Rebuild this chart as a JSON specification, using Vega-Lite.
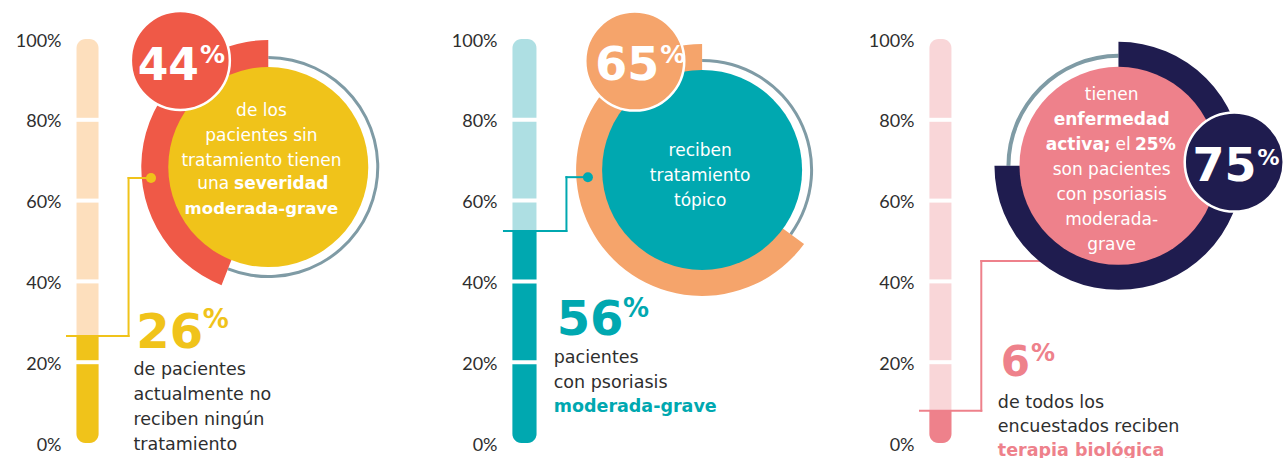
{
  "$schema": "https://vega.github.io/schema/vega-lite/v6.json",
  "padding": {"left": 15, "top": 5, "right": 0, "bottom": 0},
  "background": "white",
  "config": {"view": {"stroke": null}, "font": "DejaVu Sans", "text": {"font": "DejaVu Sans"}},
  "datasets": {
    "p1": [{"pct": 26, "bar": 26.5, "ring": 44}],
    "p2": [{"pct": 56, "bar": 52.5, "ring": 65}],
    "p3": [{"pct": 6, "bar": 8, "ring": 75}],
    "seps": [{"v": 20}, {"v": 40}, {"v": 60}, {"v": 80}]
  },
  "bounds": "flush",
  "spacing": 0,
  "hconcat": [
    {
      "width": 436, "height": 404,
      "data": {"name": "p1"},
      "layer": [
        {"mark": {"type": "bar", "width": 22, "cornerRadius": 9, "color": "#FDDFBD"},
         "encoding": {"x": {"datum": 21, "type": "quantitative", "scale": {"domain": [0, 436]}, "axis": null},
                      "y": {"datum": 100, "type": "quantitative", "scale": {"domain": [0, 100]}, "axis": {"values": [0, 20, 40, 60, 80, 100], "labelExpr": "datum.value + '%'", "ticks": false, "domain": false, "grid": false, "labelPadding": 1, "labelFontSize": 18, "labelColor": "#2E2E2E", "labelFont": "Lato", "labelOffset": 2, "title": null}},
                      "y2": {"datum": 0}}},
        {"mark": {"type": "bar", "width": 22, "cornerRadiusBottomLeft": 9, "cornerRadiusBottomRight": 9, "color": "#F0C31A"},
         "encoding": {"x": {"datum": 21, "type": "quantitative", "scale": {"domain": [0, 436]}, "axis": null},
                      "y": {"field": "bar", "type": "quantitative", "scale": {"domain": [0, 100]}, "axis": {"values": [0, 20, 40, 60, 80, 100], "labelExpr": "datum.value + '%'", "ticks": false, "domain": false, "grid": false, "labelPadding": 1, "labelFontSize": 18, "labelColor": "#2E2E2E", "labelFont": "Lato", "labelOffset": 2, "title": null}},
                      "y2": {"datum": 0}}},
        {"data": {"name": "seps"},
         "mark": {"type": "tick", "orient": "horizontal", "color": "white", "thickness": 4, "size": 26, "opacity": 1},
         "encoding": {"x": {"datum": 21, "type": "quantitative", "scale": {"domain": [0, 436]}, "axis": null},
                      "y": {"field": "v", "type": "quantitative", "scale": {"domain": [0, 100]}, "axis": {"values": [0, 20, 40, 60, 80, 100], "labelExpr": "datum.value + '%'", "ticks": false, "domain": false, "grid": false, "labelPadding": 1, "labelFontSize": 18, "labelColor": "#2E2E2E", "labelFont": "Lato", "labelOffset": 2, "title": null}}}},
        {"mark": {"type": "arc", "outerRadius": 111, "innerRadius": 108, "color": "#7F9BA5"},
         "encoding": {"x": {"datum": 206, "type": "quantitative", "scale": {"domain": [0, 436]}, "axis": null},
                      "y": {"datum": 68.3, "type": "quantitative", "scale": {"domain": [0, 100]}, "axis": {"values": [0, 20, 40, 60, 80, 100], "labelExpr": "datum.value + '%'", "ticks": false, "domain": false, "grid": false, "labelPadding": 1, "labelFontSize": 18, "labelColor": "#2E2E2E", "labelFont": "Lato", "labelOffset": 2, "title": null}},
                      "theta": {"field": "ring", "type": "quantitative", "stack": null, "scale": {"domain": [0, 100], "range": [6.283185307179586, 0]}},
                      "theta2": {"datum": 100}}},
        {"mark": {"type": "arc", "outerRadius": 127, "innerRadius": 99, "color": "#EF5947"},
         "encoding": {"x": {"datum": 206, "type": "quantitative", "scale": {"domain": [0, 436]}, "axis": null},
                      "y": {"datum": 68.3, "type": "quantitative", "scale": {"domain": [0, 100]}, "axis": {"values": [0, 20, 40, 60, 80, 100], "labelExpr": "datum.value + '%'", "ticks": false, "domain": false, "grid": false, "labelPadding": 1, "labelFontSize": 18, "labelColor": "#2E2E2E", "labelFont": "Lato", "labelOffset": 2, "title": null}},
                      "theta": {"field": "ring", "type": "quantitative", "stack": null, "scale": {"domain": [0, 100], "range": [6.283185307179586, 0]}},
                      "theta2": {"datum": 0}}},
        {"mark": {"type": "circle", "size": 40000, "fill": "#F0C31A", "opacity": 1},
         "encoding": {"x": {"datum": 206, "type": "quantitative", "scale": {"domain": [0, 436]}, "axis": null},
                      "y": {"datum": 68.3, "type": "quantitative", "scale": {"domain": [0, 100]}, "axis": {"values": [0, 20, 40, 60, 80, 100], "labelExpr": "datum.value + '%'", "ticks": false, "domain": false, "grid": false, "labelPadding": 1, "labelFontSize": 18, "labelColor": "#2E2E2E", "labelFont": "Lato", "labelOffset": 2, "title": null}}}},
        {"mark": {"type": "circle", "size": 9801, "fill": "#EF5947", "opacity": 1, "stroke": "white", "strokeWidth": 2.5},
         "encoding": {"x": {"datum": 116, "type": "quantitative", "scale": {"domain": [0, 436]}, "axis": null},
                      "y": {"datum": 94.7, "type": "quantitative", "scale": {"domain": [0, 100]}, "axis": {"values": [0, 20, 40, 60, 80, 100], "labelExpr": "datum.value + '%'", "ticks": false, "domain": false, "grid": false, "labelPadding": 1, "labelFontSize": 18, "labelColor": "#2E2E2E", "labelFont": "Lato", "labelOffset": 2, "title": null}}}},
        {"mark": {"type": "rule", "color": "#F0C31A", "strokeWidth": 2, "strokeCap": "square"},
         "encoding": {"x": {"datum": 0, "type": "quantitative", "scale": {"domain": [0, 436]}, "axis": null},
                      "x2": {"datum": 63},
                      "y": {"field": "bar", "type": "quantitative", "scale": {"domain": [0, 100]}, "axis": {"values": [0, 20, 40, 60, 80, 100], "labelExpr": "datum.value + '%'", "ticks": false, "domain": false, "grid": false, "labelPadding": 1, "labelFontSize": 18, "labelColor": "#2E2E2E", "labelFont": "Lato", "labelOffset": 2, "title": null}}}},
        {"mark": {"type": "rule", "color": "#F0C31A", "strokeWidth": 2, "strokeCap": "square"},
         "encoding": {"x": {"datum": 63, "type": "quantitative", "scale": {"domain": [0, 436]}, "axis": null},
                      "y": {"field": "bar", "type": "quantitative", "scale": {"domain": [0, 100]}, "axis": {"values": [0, 20, 40, 60, 80, 100], "labelExpr": "datum.value + '%'", "ticks": false, "domain": false, "grid": false, "labelPadding": 1, "labelFontSize": 18, "labelColor": "#2E2E2E", "labelFont": "Lato", "labelOffset": 2, "title": null}},
                      "y2": {"datum": 65.6}}},
        {"mark": {"type": "rule", "color": "#F0C31A", "strokeWidth": 2, "strokeCap": "square"},
         "encoding": {"x": {"datum": 63, "type": "quantitative", "scale": {"domain": [0, 436]}, "axis": null},
                      "x2": {"datum": 86},
                      "y": {"datum": 65.6, "type": "quantitative", "scale": {"domain": [0, 100]}, "axis": {"values": [0, 20, 40, 60, 80, 100], "labelExpr": "datum.value + '%'", "ticks": false, "domain": false, "grid": false, "labelPadding": 1, "labelFontSize": 18, "labelColor": "#2E2E2E", "labelFont": "Lato", "labelOffset": 2, "title": null}}}},
        {"mark": {"type": "circle", "size": 100, "fill": "#F0C31A", "opacity": 1},
         "encoding": {"x": {"datum": 86, "type": "quantitative", "scale": {"domain": [0, 436]}, "axis": null},
                      "y": {"datum": 65.6, "type": "quantitative", "scale": {"domain": [0, 100]}, "axis": {"values": [0, 20, 40, 60, 80, 100], "labelExpr": "datum.value + '%'", "ticks": false, "domain": false, "grid": false, "labelPadding": 1, "labelFontSize": 18, "labelColor": "#2E2E2E", "labelFont": "Lato", "labelOffset": 2, "title": null}}}},
        {"mark": {"type": "text", "align": "right", "baseline": "alphabetic", "fontSize": 44, "fontWeight": "bold", "color": "white"},
         "encoding": {"x": {"datum": 135, "type": "quantitative", "scale": {"domain": [0, 436]}, "axis": null},
                      "y": {"datum": 89.9, "type": "quantitative", "scale": {"domain": [0, 100]}, "axis": {"values": [0, 20, 40, 60, 80, 100], "labelExpr": "datum.value + '%'", "ticks": false, "domain": false, "grid": false, "labelPadding": 1, "labelFontSize": 18, "labelColor": "#2E2E2E", "labelFont": "Lato", "labelOffset": 2, "title": null}},
                      "text": {"field": "ring", "type": "quantitative"}}},
        {"mark": {"type": "text", "text": "%", "align": "left", "baseline": "alphabetic", "fontSize": 25, "fontWeight": "bold", "color": "white"},
         "encoding": {"x": {"datum": 136, "type": "quantitative", "scale": {"domain": [0, 436]}, "axis": null},
                      "y": {"datum": 94.1, "type": "quantitative", "scale": {"domain": [0, 100]}, "axis": {"values": [0, 20, 40, 60, 80, 100], "labelExpr": "datum.value + '%'", "ticks": false, "domain": false, "grid": false, "labelPadding": 1, "labelFontSize": 18, "labelColor": "#2E2E2E", "labelFont": "Lato", "labelOffset": 2, "title": null}}}},
        {"mark": {"type": "text", "text": ["de los", "pacientes sin", "tratamiento tienen"], "align": "center", "baseline": "alphabetic", "fontSize": 17, "lineHeight": 25, "color": "white"},
         "encoding": {"x": {"datum": 199, "type": "quantitative", "scale": {"domain": [0, 436]}, "axis": null},
                      "y": {"datum": 80.9, "type": "quantitative", "scale": {"domain": [0, 100]}, "axis": {"values": [0, 20, 40, 60, 80, 100], "labelExpr": "datum.value + '%'", "ticks": false, "domain": false, "grid": false, "labelPadding": 1, "labelFontSize": 18, "labelColor": "#2E2E2E", "labelFont": "Lato", "labelOffset": 2, "title": null}}}},
        {"mark": {"type": "text", "text": "una", "align": "right", "baseline": "alphabetic", "fontSize": 17, "color": "white"},
         "encoding": {"x": {"datum": 166, "type": "quantitative", "scale": {"domain": [0, 436]}, "axis": null},
                      "y": {"datum": 62.9, "type": "quantitative", "scale": {"domain": [0, 100]}, "axis": {"values": [0, 20, 40, 60, 80, 100], "labelExpr": "datum.value + '%'", "ticks": false, "domain": false, "grid": false, "labelPadding": 1, "labelFontSize": 18, "labelColor": "#2E2E2E", "labelFont": "Lato", "labelOffset": 2, "title": null}}}},
        {"mark": {"type": "text", "text": "severidad", "align": "left", "baseline": "alphabetic", "fontSize": 17, "fontWeight": "bold", "color": "white"},
         "encoding": {"x": {"datum": 171, "type": "quantitative", "scale": {"domain": [0, 436]}, "axis": null},
                      "y": {"datum": 62.9, "type": "quantitative", "scale": {"domain": [0, 100]}, "axis": {"values": [0, 20, 40, 60, 80, 100], "labelExpr": "datum.value + '%'", "ticks": false, "domain": false, "grid": false, "labelPadding": 1, "labelFontSize": 18, "labelColor": "#2E2E2E", "labelFont": "Lato", "labelOffset": 2, "title": null}}}},
        {"mark": {"type": "text", "text": "moderada-grave", "align": "center", "baseline": "alphabetic", "fontSize": 16.5, "fontWeight": "bold", "color": "white"},
         "encoding": {"x": {"datum": 199, "type": "quantitative", "scale": {"domain": [0, 436]}, "axis": null},
                      "y": {"datum": 56.7, "type": "quantitative", "scale": {"domain": [0, 100]}, "axis": {"values": [0, 20, 40, 60, 80, 100], "labelExpr": "datum.value + '%'", "ticks": false, "domain": false, "grid": false, "labelPadding": 1, "labelFontSize": 18, "labelColor": "#2E2E2E", "labelFont": "Lato", "labelOffset": 2, "title": null}}}},
        {"mark": {"type": "text", "align": "left", "baseline": "alphabetic", "fontSize": 48, "fontWeight": "bold", "color": "#F0C31A"},
         "encoding": {"x": {"datum": 71, "type": "quantitative", "scale": {"domain": [0, 436]}, "axis": null},
                      "y": {"datum": 23.5, "type": "quantitative", "scale": {"domain": [0, 100]}, "axis": {"values": [0, 20, 40, 60, 80, 100], "labelExpr": "datum.value + '%'", "ticks": false, "domain": false, "grid": false, "labelPadding": 1, "labelFontSize": 18, "labelColor": "#2E2E2E", "labelFont": "Lato", "labelOffset": 2, "title": null}},
                      "text": {"field": "pct", "type": "quantitative"}}},
        {"mark": {"type": "text", "text": "%", "align": "left", "baseline": "alphabetic", "fontSize": 26, "fontWeight": "bold", "color": "#F0C31A"},
         "encoding": {"x": {"datum": 139, "type": "quantitative", "scale": {"domain": [0, 436]}, "axis": null},
                      "y": {"datum": 28.5, "type": "quantitative", "scale": {"domain": [0, 100]}, "axis": {"values": [0, 20, 40, 60, 80, 100], "labelExpr": "datum.value + '%'", "ticks": false, "domain": false, "grid": false, "labelPadding": 1, "labelFontSize": 18, "labelColor": "#2E2E2E", "labelFont": "Lato", "labelOffset": 2, "title": null}}}},
        {"mark": {"type": "text", "text": ["de pacientes", "actualmente no", "reciben ningún", "tratamiento"], "align": "left", "baseline": "alphabetic", "fontSize": 17.5, "lineHeight": 25, "color": "#2E2E2E"},
         "encoding": {"x": {"datum": 68, "type": "quantitative", "scale": {"domain": [0, 436]}, "axis": null},
                      "y": {"datum": 16.8, "type": "quantitative", "scale": {"domain": [0, 100]}, "axis": {"values": [0, 20, 40, 60, 80, 100], "labelExpr": "datum.value + '%'", "ticks": false, "domain": false, "grid": false, "labelPadding": 1, "labelFontSize": 18, "labelColor": "#2E2E2E", "labelFont": "Lato", "labelOffset": 2, "title": null}}}}
      ]
    },
    {
      "width": 417, "height": 404,
      "data": {"name": "p2"},
      "layer": [
        {"mark": {"type": "bar", "width": 24, "cornerRadius": 9, "color": "#AEDFE3"},
         "encoding": {"x": {"datum": 22, "type": "quantitative", "scale": {"domain": [0, 417]}, "axis": null},
                      "y": {"datum": 100, "type": "quantitative", "scale": {"domain": [0, 100]}, "axis": {"values": [0, 20, 40, 60, 80, 100], "labelExpr": "datum.value + '%'", "ticks": false, "domain": false, "grid": false, "labelPadding": 1, "labelFontSize": 18, "labelColor": "#2E2E2E", "labelFont": "Lato", "labelOffset": 2, "title": null}},
                      "y2": {"datum": 0}}},
        {"mark": {"type": "bar", "width": 24, "cornerRadiusBottomLeft": 9, "cornerRadiusBottomRight": 9, "color": "#00A8B0"},
         "encoding": {"x": {"datum": 22, "type": "quantitative", "scale": {"domain": [0, 417]}, "axis": null},
                      "y": {"field": "bar", "type": "quantitative", "scale": {"domain": [0, 100]}, "axis": {"values": [0, 20, 40, 60, 80, 100], "labelExpr": "datum.value + '%'", "ticks": false, "domain": false, "grid": false, "labelPadding": 1, "labelFontSize": 18, "labelColor": "#2E2E2E", "labelFont": "Lato", "labelOffset": 2, "title": null}},
                      "y2": {"datum": 0}}},
        {"data": {"name": "seps"},
         "mark": {"type": "tick", "orient": "horizontal", "color": "white", "thickness": 4, "size": 28, "opacity": 1},
         "encoding": {"x": {"datum": 22, "type": "quantitative", "scale": {"domain": [0, 417]}, "axis": null},
                      "y": {"field": "v", "type": "quantitative", "scale": {"domain": [0, 100]}, "axis": {"values": [0, 20, 40, 60, 80, 100], "labelExpr": "datum.value + '%'", "ticks": false, "domain": false, "grid": false, "labelPadding": 1, "labelFontSize": 18, "labelColor": "#2E2E2E", "labelFont": "Lato", "labelOffset": 2, "title": null}}}},
        {"mark": {"type": "arc", "outerRadius": 111, "innerRadius": 108, "color": "#7F9BA5"},
         "encoding": {"x": {"datum": 204, "type": "quantitative", "scale": {"domain": [0, 417]}, "axis": null},
                      "y": {"datum": 67.6, "type": "quantitative", "scale": {"domain": [0, 100]}, "axis": {"values": [0, 20, 40, 60, 80, 100], "labelExpr": "datum.value + '%'", "ticks": false, "domain": false, "grid": false, "labelPadding": 1, "labelFontSize": 18, "labelColor": "#2E2E2E", "labelFont": "Lato", "labelOffset": 2, "title": null}},
                      "theta": {"field": "ring", "type": "quantitative", "stack": null, "scale": {"domain": [0, 100], "range": [6.283185307179586, 0]}},
                      "theta2": {"datum": 100}}},
        {"mark": {"type": "arc", "outerRadius": 126, "innerRadius": 99, "color": "#F5A46B"},
         "encoding": {"x": {"datum": 204, "type": "quantitative", "scale": {"domain": [0, 417]}, "axis": null},
                      "y": {"datum": 67.6, "type": "quantitative", "scale": {"domain": [0, 100]}, "axis": {"values": [0, 20, 40, 60, 80, 100], "labelExpr": "datum.value + '%'", "ticks": false, "domain": false, "grid": false, "labelPadding": 1, "labelFontSize": 18, "labelColor": "#2E2E2E", "labelFont": "Lato", "labelOffset": 2, "title": null}},
                      "theta": {"field": "ring", "type": "quantitative", "stack": null, "scale": {"domain": [0, 100], "range": [6.283185307179586, 0]}},
                      "theta2": {"datum": 0}}},
        {"mark": {"type": "circle", "size": 40000, "fill": "#00A8B0", "opacity": 1},
         "encoding": {"x": {"datum": 204, "type": "quantitative", "scale": {"domain": [0, 417]}, "axis": null},
                      "y": {"datum": 67.6, "type": "quantitative", "scale": {"domain": [0, 100]}, "axis": {"values": [0, 20, 40, 60, 80, 100], "labelExpr": "datum.value + '%'", "ticks": false, "domain": false, "grid": false, "labelPadding": 1, "labelFontSize": 18, "labelColor": "#2E2E2E", "labelFont": "Lato", "labelOffset": 2, "title": null}}}},
        {"mark": {"type": "circle", "size": 9801, "fill": "#F5A46B", "opacity": 1, "stroke": "white", "strokeWidth": 2.5},
         "encoding": {"x": {"datum": 135, "type": "quantitative", "scale": {"domain": [0, 417]}, "axis": null},
                      "y": {"datum": 94.55, "type": "quantitative", "scale": {"domain": [0, 100]}, "axis": {"values": [0, 20, 40, 60, 80, 100], "labelExpr": "datum.value + '%'", "ticks": false, "domain": false, "grid": false, "labelPadding": 1, "labelFontSize": 18, "labelColor": "#2E2E2E", "labelFont": "Lato", "labelOffset": 2, "title": null}}}},
        {"mark": {"type": "rule", "color": "#00A8B0", "strokeWidth": 2, "strokeCap": "square"},
         "encoding": {"x": {"datum": 1, "type": "quantitative", "scale": {"domain": [0, 417]}, "axis": null},
                      "x2": {"datum": 65},
                      "y": {"field": "bar", "type": "quantitative", "scale": {"domain": [0, 100]}, "axis": {"values": [0, 20, 40, 60, 80, 100], "labelExpr": "datum.value + '%'", "ticks": false, "domain": false, "grid": false, "labelPadding": 1, "labelFontSize": 18, "labelColor": "#2E2E2E", "labelFont": "Lato", "labelOffset": 2, "title": null}}}},
        {"mark": {"type": "rule", "color": "#00A8B0", "strokeWidth": 2, "strokeCap": "square"},
         "encoding": {"x": {"datum": 65, "type": "quantitative", "scale": {"domain": [0, 417]}, "axis": null},
                      "y": {"field": "bar", "type": "quantitative", "scale": {"domain": [0, 100]}, "axis": {"values": [0, 20, 40, 60, 80, 100], "labelExpr": "datum.value + '%'", "ticks": false, "domain": false, "grid": false, "labelPadding": 1, "labelFontSize": 18, "labelColor": "#2E2E2E", "labelFont": "Lato", "labelOffset": 2, "title": null}},
                      "y2": {"datum": 65.8}}},
        {"mark": {"type": "rule", "color": "#00A8B0", "strokeWidth": 2, "strokeCap": "square"},
         "encoding": {"x": {"datum": 65, "type": "quantitative", "scale": {"domain": [0, 417]}, "axis": null},
                      "x2": {"datum": 87},
                      "y": {"datum": 65.8, "type": "quantitative", "scale": {"domain": [0, 100]}, "axis": {"values": [0, 20, 40, 60, 80, 100], "labelExpr": "datum.value + '%'", "ticks": false, "domain": false, "grid": false, "labelPadding": 1, "labelFontSize": 18, "labelColor": "#2E2E2E", "labelFont": "Lato", "labelOffset": 2, "title": null}}}},
        {"mark": {"type": "circle", "size": 100, "fill": "#00A8B0", "opacity": 1},
         "encoding": {"x": {"datum": 87, "type": "quantitative", "scale": {"domain": [0, 417]}, "axis": null},
                      "y": {"datum": 65.8, "type": "quantitative", "scale": {"domain": [0, 100]}, "axis": {"values": [0, 20, 40, 60, 80, 100], "labelExpr": "datum.value + '%'", "ticks": false, "domain": false, "grid": false, "labelPadding": 1, "labelFontSize": 18, "labelColor": "#2E2E2E", "labelFont": "Lato", "labelOffset": 2, "title": null}}}},
        {"mark": {"type": "text", "align": "right", "baseline": "alphabetic", "fontSize": 46, "fontWeight": "bold", "color": "white"},
         "encoding": {"x": {"datum": 160, "type": "quantitative", "scale": {"domain": [0, 417]}, "axis": null},
                      "y": {"datum": 89.9, "type": "quantitative", "scale": {"domain": [0, 100]}, "axis": {"values": [0, 20, 40, 60, 80, 100], "labelExpr": "datum.value + '%'", "ticks": false, "domain": false, "grid": false, "labelPadding": 1, "labelFontSize": 18, "labelColor": "#2E2E2E", "labelFont": "Lato", "labelOffset": 2, "title": null}},
                      "text": {"field": "ring", "type": "quantitative"}}},
        {"mark": {"type": "text", "text": "%", "align": "left", "baseline": "alphabetic", "fontSize": 25, "fontWeight": "bold", "color": "white"},
         "encoding": {"x": {"datum": 161, "type": "quantitative", "scale": {"domain": [0, 417]}, "axis": null},
                      "y": {"datum": 94.1, "type": "quantitative", "scale": {"domain": [0, 100]}, "axis": {"values": [0, 20, 40, 60, 80, 100], "labelExpr": "datum.value + '%'", "ticks": false, "domain": false, "grid": false, "labelPadding": 1, "labelFontSize": 18, "labelColor": "#2E2E2E", "labelFont": "Lato", "labelOffset": 2, "title": null}}}},
        {"mark": {"type": "text", "text": ["reciben", "tratamiento", "tópico"], "align": "center", "baseline": "alphabetic", "fontSize": 17, "lineHeight": 25, "color": "white"},
         "encoding": {"x": {"datum": 202, "type": "quantitative", "scale": {"domain": [0, 417]}, "axis": null},
                      "y": {"datum": 71.0, "type": "quantitative", "scale": {"domain": [0, 100]}, "axis": {"values": [0, 20, 40, 60, 80, 100], "labelExpr": "datum.value + '%'", "ticks": false, "domain": false, "grid": false, "labelPadding": 1, "labelFontSize": 18, "labelColor": "#2E2E2E", "labelFont": "Lato", "labelOffset": 2, "title": null}}}},
        {"mark": {"type": "text", "align": "left", "baseline": "alphabetic", "fontSize": 48, "fontWeight": "bold", "color": "#00A8B0"},
         "encoding": {"x": {"datum": 55, "type": "quantitative", "scale": {"domain": [0, 417]}, "axis": null},
                      "y": {"datum": 26.7, "type": "quantitative", "scale": {"domain": [0, 100]}, "axis": {"values": [0, 20, 40, 60, 80, 100], "labelExpr": "datum.value + '%'", "ticks": false, "domain": false, "grid": false, "labelPadding": 1, "labelFontSize": 18, "labelColor": "#2E2E2E", "labelFont": "Lato", "labelOffset": 2, "title": null}},
                      "text": {"field": "pct", "type": "quantitative"}}},
        {"mark": {"type": "text", "text": "%", "align": "left", "baseline": "alphabetic", "fontSize": 26, "fontWeight": "bold", "color": "#00A8B0"},
         "encoding": {"x": {"datum": 123, "type": "quantitative", "scale": {"domain": [0, 417]}, "axis": null},
                      "y": {"datum": 31.2, "type": "quantitative", "scale": {"domain": [0, 100]}, "axis": {"values": [0, 20, 40, 60, 80, 100], "labelExpr": "datum.value + '%'", "ticks": false, "domain": false, "grid": false, "labelPadding": 1, "labelFontSize": 18, "labelColor": "#2E2E2E", "labelFont": "Lato", "labelOffset": 2, "title": null}}}},
        {"mark": {"type": "text", "text": ["pacientes", "con psoriasis"], "align": "left", "baseline": "alphabetic", "fontSize": 17.5, "lineHeight": 25, "color": "#2E2E2E"},
         "encoding": {"x": {"datum": 52, "type": "quantitative", "scale": {"domain": [0, 417]}, "axis": null},
                      "y": {"datum": 19.8, "type": "quantitative", "scale": {"domain": [0, 100]}, "axis": {"values": [0, 20, 40, 60, 80, 100], "labelExpr": "datum.value + '%'", "ticks": false, "domain": false, "grid": false, "labelPadding": 1, "labelFontSize": 18, "labelColor": "#2E2E2E", "labelFont": "Lato", "labelOffset": 2, "title": null}}}},
        {"mark": {"type": "text", "text": "moderada-grave", "align": "left", "baseline": "alphabetic", "fontSize": 17.5, "fontWeight": "bold", "color": "#00A8B0"},
         "encoding": {"x": {"datum": 52, "type": "quantitative", "scale": {"domain": [0, 417]}, "axis": null},
                      "y": {"datum": 7.7, "type": "quantitative", "scale": {"domain": [0, 100]}, "axis": {"values": [0, 20, 40, 60, 80, 100], "labelExpr": "datum.value + '%'", "ticks": false, "domain": false, "grid": false, "labelPadding": 1, "labelFontSize": 18, "labelColor": "#2E2E2E", "labelFont": "Lato", "labelOffset": 2, "title": null}}}}
      ]
    },
    {
      "width": 368, "height": 404,
      "data": {"name": "p3"},
      "layer": [
        {"mark": {"type": "bar", "width": 22, "cornerRadius": 9, "color": "#F9D6D8"},
         "encoding": {"x": {"datum": 21, "type": "quantitative", "scale": {"domain": [0, 368]}, "axis": null},
                      "y": {"datum": 100, "type": "quantitative", "scale": {"domain": [0, 100]}, "axis": {"values": [0, 20, 40, 60, 80, 100], "labelExpr": "datum.value + '%'", "ticks": false, "domain": false, "grid": false, "labelPadding": 1, "labelFontSize": 18, "labelColor": "#2E2E2E", "labelFont": "Lato", "labelOffset": 2, "title": null}},
                      "y2": {"datum": 0}}},
        {"mark": {"type": "bar", "width": 22, "cornerRadiusBottomLeft": 9, "cornerRadiusBottomRight": 9, "color": "#EE818B"},
         "encoding": {"x": {"datum": 21, "type": "quantitative", "scale": {"domain": [0, 368]}, "axis": null},
                      "y": {"field": "bar", "type": "quantitative", "scale": {"domain": [0, 100]}, "axis": {"values": [0, 20, 40, 60, 80, 100], "labelExpr": "datum.value + '%'", "ticks": false, "domain": false, "grid": false, "labelPadding": 1, "labelFontSize": 18, "labelColor": "#2E2E2E", "labelFont": "Lato", "labelOffset": 2, "title": null}},
                      "y2": {"datum": 0}}},
        {"data": {"name": "seps"},
         "mark": {"type": "tick", "orient": "horizontal", "color": "white", "thickness": 4, "size": 26, "opacity": 1},
         "encoding": {"x": {"datum": 21, "type": "quantitative", "scale": {"domain": [0, 368]}, "axis": null},
                      "y": {"field": "v", "type": "quantitative", "scale": {"domain": [0, 100]}, "axis": {"values": [0, 20, 40, 60, 80, 100], "labelExpr": "datum.value + '%'", "ticks": false, "domain": false, "grid": false, "labelPadding": 1, "labelFontSize": 18, "labelColor": "#2E2E2E", "labelFont": "Lato", "labelOffset": 2, "title": null}}}},
        {"mark": {"type": "rule", "color": "#EE818B", "strokeWidth": 2, "strokeCap": "square"},
         "encoding": {"x": {"datum": 0, "type": "quantitative", "scale": {"domain": [0, 368]}, "axis": null},
                      "x2": {"datum": 63},
                      "y": {"field": "bar", "type": "quantitative", "scale": {"domain": [0, 100]}, "axis": {"values": [0, 20, 40, 60, 80, 100], "labelExpr": "datum.value + '%'", "ticks": false, "domain": false, "grid": false, "labelPadding": 1, "labelFontSize": 18, "labelColor": "#2E2E2E", "labelFont": "Lato", "labelOffset": 2, "title": null}}}},
        {"mark": {"type": "rule", "color": "#EE818B", "strokeWidth": 2, "strokeCap": "square"},
         "encoding": {"x": {"datum": 63, "type": "quantitative", "scale": {"domain": [0, 368]}, "axis": null},
                      "y": {"field": "bar", "type": "quantitative", "scale": {"domain": [0, 100]}, "axis": {"values": [0, 20, 40, 60, 80, 100], "labelExpr": "datum.value + '%'", "ticks": false, "domain": false, "grid": false, "labelPadding": 1, "labelFontSize": 18, "labelColor": "#2E2E2E", "labelFont": "Lato", "labelOffset": 2, "title": null}},
                      "y2": {"datum": 45.05}}},
        {"mark": {"type": "rule", "color": "#EE818B", "strokeWidth": 2, "strokeCap": "square"},
         "encoding": {"x": {"datum": 63, "type": "quantitative", "scale": {"domain": [0, 368]}, "axis": null},
                      "x2": {"datum": 130},
                      "y": {"datum": 45.05, "type": "quantitative", "scale": {"domain": [0, 100]}, "axis": {"values": [0, 20, 40, 60, 80, 100], "labelExpr": "datum.value + '%'", "ticks": false, "domain": false, "grid": false, "labelPadding": 1, "labelFontSize": 18, "labelColor": "#2E2E2E", "labelFont": "Lato", "labelOffset": 2, "title": null}}}},
        {"mark": {"type": "arc", "outerRadius": 112, "innerRadius": 108, "color": "#7F9BA5"},
         "encoding": {"x": {"datum": 204, "type": "quantitative", "scale": {"domain": [0, 368]}, "axis": null},
                      "y": {"datum": 68.6, "type": "quantitative", "scale": {"domain": [0, 100]}, "axis": {"values": [0, 20, 40, 60, 80, 100], "labelExpr": "datum.value + '%'", "ticks": false, "domain": false, "grid": false, "labelPadding": 1, "labelFontSize": 18, "labelColor": "#2E2E2E", "labelFont": "Lato", "labelOffset": 2, "title": null}},
                      "theta": {"field": "ring", "type": "quantitative", "stack": null, "scale": {"domain": [0, 100], "range": [0, 6.283185307179586]}},
                      "theta2": {"datum": 100}}},
        {"mark": {"type": "arc", "outerRadius": 124, "innerRadius": 98, "color": "#1F1C4F"},
         "encoding": {"x": {"datum": 204, "type": "quantitative", "scale": {"domain": [0, 368]}, "axis": null},
                      "y": {"datum": 68.6, "type": "quantitative", "scale": {"domain": [0, 100]}, "axis": {"values": [0, 20, 40, 60, 80, 100], "labelExpr": "datum.value + '%'", "ticks": false, "domain": false, "grid": false, "labelPadding": 1, "labelFontSize": 18, "labelColor": "#2E2E2E", "labelFont": "Lato", "labelOffset": 2, "title": null}},
                      "theta": {"field": "ring", "type": "quantitative", "stack": null, "scale": {"domain": [0, 100], "range": [0, 6.283185307179586]}},
                      "theta2": {"datum": 0}}},
        {"mark": {"type": "circle", "size": 39204, "fill": "#EE818B", "opacity": 1},
         "encoding": {"x": {"datum": 204, "type": "quantitative", "scale": {"domain": [0, 368]}, "axis": null},
                      "y": {"datum": 68.6, "type": "quantitative", "scale": {"domain": [0, 100]}, "axis": {"values": [0, 20, 40, 60, 80, 100], "labelExpr": "datum.value + '%'", "ticks": false, "domain": false, "grid": false, "labelPadding": 1, "labelFontSize": 18, "labelColor": "#2E2E2E", "labelFont": "Lato", "labelOffset": 2, "title": null}}}},
        {"mark": {"type": "circle", "size": 9801, "fill": "#1F1C4F", "opacity": 1, "stroke": "white", "strokeWidth": 2.5},
         "encoding": {"x": {"datum": 323, "type": "quantitative", "scale": {"domain": [0, 368]}, "axis": null},
                      "y": {"datum": 69.55, "type": "quantitative", "scale": {"domain": [0, 100]}, "axis": {"values": [0, 20, 40, 60, 80, 100], "labelExpr": "datum.value + '%'", "ticks": false, "domain": false, "grid": false, "labelPadding": 1, "labelFontSize": 18, "labelColor": "#2E2E2E", "labelFont": "Lato", "labelOffset": 2, "title": null}}}},
        {"mark": {"type": "text", "align": "right", "baseline": "alphabetic", "fontSize": 46, "fontWeight": "bold", "color": "white"},
         "encoding": {"x": {"datum": 346, "type": "quantitative", "scale": {"domain": [0, 368]}, "axis": null},
                      "y": {"datum": 64.85, "type": "quantitative", "scale": {"domain": [0, 100]}, "axis": {"values": [0, 20, 40, 60, 80, 100], "labelExpr": "datum.value + '%'", "ticks": false, "domain": false, "grid": false, "labelPadding": 1, "labelFontSize": 18, "labelColor": "#2E2E2E", "labelFont": "Lato", "labelOffset": 2, "title": null}},
                      "text": {"field": "ring", "type": "quantitative"}}},
        {"mark": {"type": "text", "text": "%", "align": "left", "baseline": "alphabetic", "fontSize": 22, "fontWeight": "bold", "color": "white"},
         "encoding": {"x": {"datum": 347, "type": "quantitative", "scale": {"domain": [0, 368]}, "axis": null},
                      "y": {"datum": 68.8, "type": "quantitative", "scale": {"domain": [0, 100]}, "axis": {"values": [0, 20, 40, 60, 80, 100], "labelExpr": "datum.value + '%'", "ticks": false, "domain": false, "grid": false, "labelPadding": 1, "labelFontSize": 18, "labelColor": "#2E2E2E", "labelFont": "Lato", "labelOffset": 2, "title": null}}}},
        {"mark": {"type": "text", "text": "tienen", "align": "center", "baseline": "alphabetic", "fontSize": 17, "color": "white"},
         "encoding": {"x": {"datum": 197, "type": "quantitative", "scale": {"domain": [0, 368]}, "axis": null},
                      "y": {"datum": 84.9, "type": "quantitative", "scale": {"domain": [0, 100]}, "axis": {"values": [0, 20, 40, 60, 80, 100], "labelExpr": "datum.value + '%'", "ticks": false, "domain": false, "grid": false, "labelPadding": 1, "labelFontSize": 18, "labelColor": "#2E2E2E", "labelFont": "Lato", "labelOffset": 2, "title": null}}}},
        {"mark": {"type": "text", "text": "enfermedad", "align": "center", "baseline": "alphabetic", "fontSize": 17, "fontWeight": "bold", "color": "white"},
         "encoding": {"x": {"datum": 197, "type": "quantitative", "scale": {"domain": [0, 368]}, "axis": null},
                      "y": {"datum": 78.7, "type": "quantitative", "scale": {"domain": [0, 100]}, "axis": {"values": [0, 20, 40, 60, 80, 100], "labelExpr": "datum.value + '%'", "ticks": false, "domain": false, "grid": false, "labelPadding": 1, "labelFontSize": 18, "labelColor": "#2E2E2E", "labelFont": "Lato", "labelOffset": 2, "title": null}}}},
        {"mark": {"type": "text", "text": "activa;", "align": "right", "baseline": "alphabetic", "fontSize": 17, "fontWeight": "bold", "color": "white"},
         "encoding": {"x": {"datum": 196, "type": "quantitative", "scale": {"domain": [0, 368]}, "axis": null},
                      "y": {"datum": 72.5, "type": "quantitative", "scale": {"domain": [0, 100]}, "axis": {"values": [0, 20, 40, 60, 80, 100], "labelExpr": "datum.value + '%'", "ticks": false, "domain": false, "grid": false, "labelPadding": 1, "labelFontSize": 18, "labelColor": "#2E2E2E", "labelFont": "Lato", "labelOffset": 2, "title": null}}}},
        {"mark": {"type": "text", "text": "el", "align": "left", "baseline": "alphabetic", "fontSize": 17, "color": "white"},
         "encoding": {"x": {"datum": 201, "type": "quantitative", "scale": {"domain": [0, 368]}, "axis": null},
                      "y": {"datum": 72.5, "type": "quantitative", "scale": {"domain": [0, 100]}, "axis": {"values": [0, 20, 40, 60, 80, 100], "labelExpr": "datum.value + '%'", "ticks": false, "domain": false, "grid": false, "labelPadding": 1, "labelFontSize": 18, "labelColor": "#2E2E2E", "labelFont": "Lato", "labelOffset": 2, "title": null}}}},
        {"mark": {"type": "text", "text": "25%", "align": "left", "baseline": "alphabetic", "fontSize": 17, "fontWeight": "bold", "color": "white"},
         "encoding": {"x": {"datum": 221, "type": "quantitative", "scale": {"domain": [0, 368]}, "axis": null},
                      "y": {"datum": 72.5, "type": "quantitative", "scale": {"domain": [0, 100]}, "axis": {"values": [0, 20, 40, 60, 80, 100], "labelExpr": "datum.value + '%'", "ticks": false, "domain": false, "grid": false, "labelPadding": 1, "labelFontSize": 18, "labelColor": "#2E2E2E", "labelFont": "Lato", "labelOffset": 2, "title": null}}}},
        {"mark": {"type": "text", "text": ["son pacientes", "con psoriasis", "moderada-", "grave"], "align": "center", "baseline": "alphabetic", "fontSize": 17, "lineHeight": 25, "color": "white"},
         "encoding": {"x": {"datum": 197, "type": "quantitative", "scale": {"domain": [0, 368]}, "axis": null},
                      "y": {"datum": 66.3, "type": "quantitative", "scale": {"domain": [0, 100]}, "axis": {"values": [0, 20, 40, 60, 80, 100], "labelExpr": "datum.value + '%'", "ticks": false, "domain": false, "grid": false, "labelPadding": 1, "labelFontSize": 18, "labelColor": "#2E2E2E", "labelFont": "Lato", "labelOffset": 2, "title": null}}}},
        {"mark": {"type": "text", "align": "left", "baseline": "alphabetic", "fontSize": 42, "fontWeight": "bold", "color": "#EE818B"},
         "encoding": {"x": {"datum": 83, "type": "quantitative", "scale": {"domain": [0, 368]}, "axis": null},
                      "y": {"datum": 16.6, "type": "quantitative", "scale": {"domain": [0, 100]}, "axis": {"values": [0, 20, 40, 60, 80, 100], "labelExpr": "datum.value + '%'", "ticks": false, "domain": false, "grid": false, "labelPadding": 1, "labelFontSize": 18, "labelColor": "#2E2E2E", "labelFont": "Lato", "labelOffset": 2, "title": null}},
                      "text": {"field": "pct", "type": "quantitative"}}},
        {"mark": {"type": "text", "text": "%", "align": "left", "baseline": "alphabetic", "fontSize": 24, "fontWeight": "bold", "color": "#EE818B"},
         "encoding": {"x": {"datum": 114, "type": "quantitative", "scale": {"domain": [0, 368]}, "axis": null},
                      "y": {"datum": 20.3, "type": "quantitative", "scale": {"domain": [0, 100]}, "axis": {"values": [0, 20, 40, 60, 80, 100], "labelExpr": "datum.value + '%'", "ticks": false, "domain": false, "grid": false, "labelPadding": 1, "labelFontSize": 18, "labelColor": "#2E2E2E", "labelFont": "Lato", "labelOffset": 2, "title": null}}}},
        {"mark": {"type": "text", "text": ["de todos los", "encuestados reciben"], "align": "left", "baseline": "alphabetic", "fontSize": 17.5, "lineHeight": 24, "color": "#2E2E2E"},
         "encoding": {"x": {"datum": 80, "type": "quantitative", "scale": {"domain": [0, 368]}, "axis": null},
                      "y": {"datum": 8.66, "type": "quantitative", "scale": {"domain": [0, 100]}, "axis": {"values": [0, 20, 40, 60, 80, 100], "labelExpr": "datum.value + '%'", "ticks": false, "domain": false, "grid": false, "labelPadding": 1, "labelFontSize": 18, "labelColor": "#2E2E2E", "labelFont": "Lato", "labelOffset": 2, "title": null}}}},
        {"mark": {"type": "text", "text": "terapia biológica", "align": "left", "baseline": "alphabetic", "fontSize": 17.5, "fontWeight": "bold", "color": "#EE818B"},
         "encoding": {"x": {"datum": 80, "type": "quantitative", "scale": {"domain": [0, 368]}, "axis": null},
                      "y": {"datum": -3.2, "type": "quantitative", "scale": {"domain": [0, 100]}, "axis": {"values": [0, 20, 40, 60, 80, 100], "labelExpr": "datum.value + '%'", "ticks": false, "domain": false, "grid": false, "labelPadding": 1, "labelFontSize": 18, "labelColor": "#2E2E2E", "labelFont": "Lato", "labelOffset": 2, "title": null}}}}
      ]
    }
  ]
}
